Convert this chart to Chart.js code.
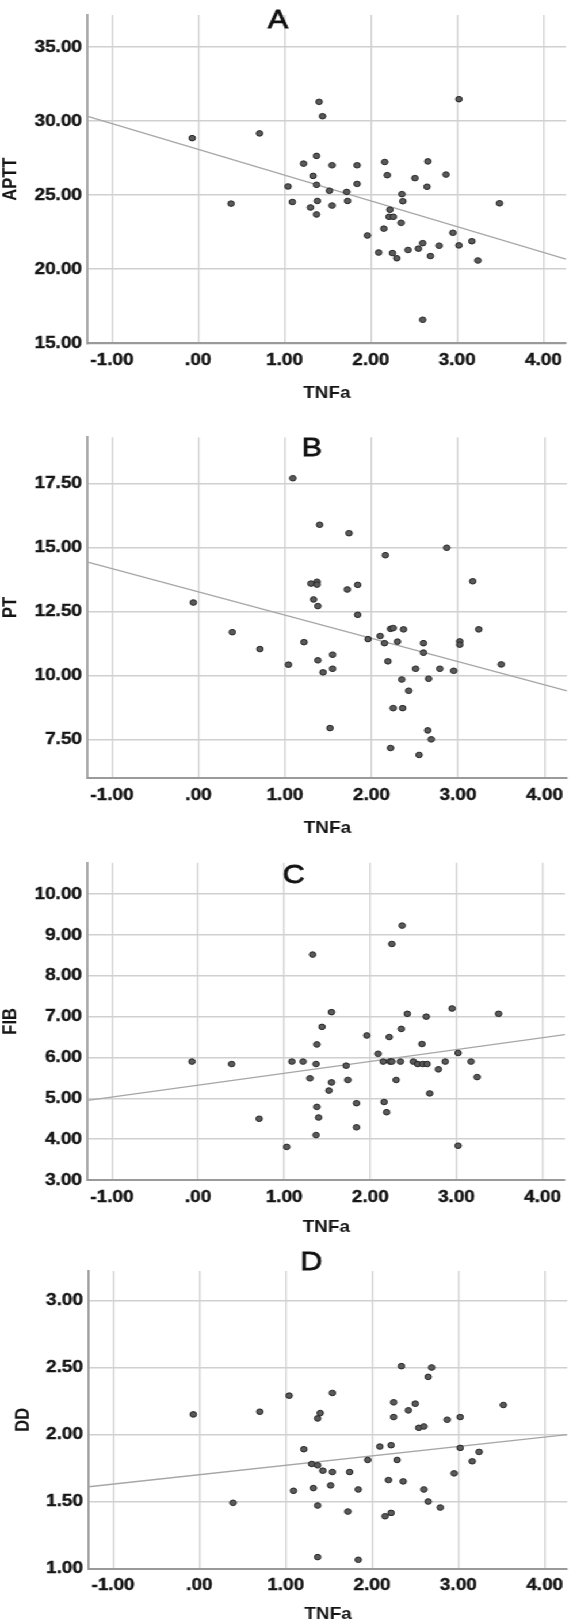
<!DOCTYPE html>
<html>
<head>
<meta charset="utf-8">
<title>TNFa scatter plots</title>
<script src="https://cdn.jsdelivr.net/npm/chart.js@4.4.1/dist/chart.umd.min.js"></script>
<style>
    html, body { margin: 0; padding: 0; background: #fff; }
    body { width: 573px; height: 1624px; overflow: hidden; }
    /* the source figure is stretched sideways, so draw narrow and widen */
    #stretch { position: relative; width: 498px; height: 1624px; transform: scaleX(1.1506); transform-origin: 0 0; }
    .panel { position: absolute; left: 0; width: 498px; }
</style>
</head>
<body>
<div id="stretch">
    <div class="panel" style="top:0;height:405px"><canvas id="chartA"></canvas></div>
    <div class="panel" style="top:405px;height:435px"><canvas id="chartB"></canvas></div>
    <div class="panel" style="top:840px;height:397px"><canvas id="chartC"></canvas></div>
    <div class="panel" style="top:1237px;height:387px"><canvas id="chartD"></canvas></div>
</div>
<script>
// x ticks shared by all panels
var xTicks = [-1, 0, 1, 2, 3, 4];
var xRange = [-1.28, 4.26];

// A: APTT vs TNFa
var tnfA = [1.40, 1.44, 3.02, -0.07, 0.71, 1.37, 1.22, 1.55, 1.84, 2.16,
            2.66, 1.33, 2.19, 2.51, 2.87, 1.04, 1.37, 1.52, 1.72, 1.84,
            2.65, 2.36, 2.37, 0.38, 1.09, 1.38, 1.73, 1.55, 1.30, 1.37,
            2.22, 2.21, 2.26, 2.35, 2.15, 1.96, 2.95, 2.60, 2.55, 2.43,
            2.79, 3.02, 3.17, 2.09, 2.25, 2.30, 2.69, 3.24, 2.60, 3.49];
var aptt = [31.30, 30.33, 31.48, 28.85, 29.17, 27.65, 27.13, 27.02, 27.02, 27.24,
            27.28, 26.30, 26.35, 26.15, 26.39, 25.59, 25.70, 25.30, 25.22, 25.76,
            25.57, 25.07, 24.59, 24.43, 24.54, 24.61, 24.61, 24.30, 24.17, 23.70,
            24.02, 23.54, 23.54, 23.13, 22.74, 22.28, 22.46, 21.76, 21.39, 21.30,
            21.59, 21.61, 21.89, 21.13, 21.09, 20.74, 20.89, 20.59, 16.59, 24.45];
var yTicksA = [15, 20, 25, 30, 35];
var fitA = [28.1, -1.74]; // intercept, slope

// B: PT vs TNFa
var tnfB = [1.09, 1.40, 1.74, 2.87, 2.16, 3.17, 1.30, 1.37, 1.37, 1.72,
            1.84, 1.33, 1.38, -0.06, 1.84, 2.22, 2.25, 2.37, 3.24, 0.39,
            1.96, 2.10, 2.15, 2.30, 2.60, 3.02, 3.02, 1.22, 0.71, 2.60,
            1.55, 1.04, 1.38, 1.55, 1.44, 2.19, 2.51, 2.79, 2.95, 3.50,
            2.35, 2.66, 2.43, 2.25, 2.36, 1.52, 2.65, 2.69, 2.22, 2.55];
var pt = [17.71, 15.89, 15.56, 14.99, 14.70, 13.68, 13.59, 13.66, 13.55, 13.36,
          13.54, 12.97, 12.71, 12.85, 12.37, 11.82, 11.85, 11.80, 11.80, 11.69,
          11.42, 11.54, 11.26, 11.32, 11.26, 11.33, 11.20, 11.30, 11.03, 10.89,
          10.81, 10.42, 10.59, 10.26, 10.12, 10.55, 10.26, 10.26, 10.18, 10.43,
          9.84, 9.87, 9.40, 8.72, 8.72, 7.94, 7.85, 7.50, 7.16, 6.89];
var yTicksB = [7.5, 10, 12.5, 15, 17.5];
var fitB = [13.27, -0.909];

// C: FIB vs TNFa
var tnfC = [2.37, 2.25, 1.33, 1.55, 2.95, 2.43, 2.65, 3.49, 1.44, 2.36,
            1.96, 2.22, 1.38, 2.60, 2.09, 3.02, -0.07, 0.39, 1.09, 1.22,
            1.37, 1.72, 2.15, 2.23, 2.25, 2.35, 2.50, 2.55, 2.61, 2.66,
            2.87, 3.17, 2.79, 3.24, 1.30, 1.74, 2.30, 1.55, 1.52, 2.69,
            1.84, 2.16, 1.38, 2.19, 1.40, 0.71, 1.84, 1.37, 1.03, 3.02];
var fib = [9.23, 8.78, 8.52, 7.11, 7.20, 7.07, 7.00, 7.07, 6.75, 6.70,
           6.54, 6.50, 6.32, 6.33, 6.09, 6.11, 5.90, 5.84, 5.90, 5.90,
           5.84, 5.80, 5.90, 5.90, 5.90, 5.90, 5.90, 5.84, 5.84, 5.84,
           5.90, 5.90, 5.71, 5.52, 5.49, 5.45, 5.45, 5.39, 5.19, 5.12,
           4.88, 4.91, 4.79, 4.66, 4.53, 4.50, 4.29, 4.10, 3.81, 3.84];
var yTicksC = [3, 4, 5, 6, 7, 8, 9, 10];
var fitC = [5.32, 0.291];

// D: DD vs TNFa
var tnfD = [2.34, 2.69, 2.65, 1.54, 1.04, 2.25, 2.50, 2.42, 1.40, 1.37,
            -0.07, 0.70, 2.25, 2.87, 3.02, 2.54, 2.60, 3.52, 2.09, 2.22,
            3.02, 3.24, 1.21, 1.95, 2.29, 3.16, 1.30, 1.37, 1.43, 1.54,
            1.74, 2.95, 2.19, 2.36, 1.09, 1.32, 1.52, 1.84, 2.60, 2.65,
            0.39, 1.37, 2.79, 1.72, 2.15, 2.22, 1.37, 1.84];
var dd = [2.51, 2.50, 2.43, 2.31, 2.29, 2.24, 2.23, 2.18, 2.16, 2.12,
          2.15, 2.17, 2.13, 2.11, 2.13, 2.05, 2.06, 2.22, 1.91, 1.92,
          1.90, 1.87, 1.89, 1.81, 1.81, 1.80, 1.78, 1.77, 1.73, 1.72,
          1.72, 1.71, 1.66, 1.65, 1.58, 1.60, 1.62, 1.59, 1.59, 1.50,
          1.49, 1.47, 1.455, 1.425, 1.39, 1.415, 1.085, 1.065];
var yTicksD = [1, 1.5, 2, 2.5, 3];
var fitD = [1.70, 0.0702];

Chart.defaults.font.family = '"Liberation Sans", Arial, Helvetica, sans-serif';
Chart.defaults.color = '#151515';

var letterPlugin = {
    id: 'panelLetter',
    afterDraw: function(chart, args, opts) {
        var ctx = chart.ctx;
        ctx.save();
        ctx.font = '26.5px "Liberation Sans", Arial, sans-serif';
        ctx.fillStyle = '#111';
        ctx.strokeStyle = '#111';
        ctx.lineWidth = 0.8;
        ctx.textAlign = 'center';
        ctx.textBaseline = 'alphabetic';
        ctx.fillText(opts.text, opts.x, opts.y);
        ctx.strokeText(opts.text, opts.x, opts.y);
        ctx.restore();
    }
};

function fmt(v) {
    return Number(v).toFixed(2).replace(/^(-?)0\./, '$1.');
}

function toPoints(xs, ys) {
    var pts = [];
    for (var i = 0; i < xs.length; i++) {
        pts.push({x: xs[i], y: ys[i]});
    }
    return pts;
}

function makePanel(id, p) {
    var ctx = document.getElementById(id);
    var line = [
        {x: xRange[0], y: p.fit[0] + p.fit[1] * xRange[0]},
        {x: xRange[1], y: p.fit[0] + p.fit[1] * xRange[1]}
    ];
    return new Chart(ctx, {
        type: 'scatter',
        data: {
            datasets: [
                {
                    data: toPoints(p.xs, p.ys),
                    backgroundColor: '#5a5a5a',
                    borderColor: '#262626',
                    borderWidth: 1,
                    pointRadius: 2.8
                },
                {
                    type: 'line',
                    data: line,
                    borderColor: '#a6a6a6',
                    borderWidth: 1.3,
                    pointRadius: 0,
                    fill: false
                }
            ]
        },
        options: {
            responsive: true,
            maintainAspectRatio: false,
            animation: false,
            events: [],
            layout: {padding: {top: p.padTop, right: p.padRight, left: 0, bottom: 0}},
            plugins: {
                legend: {display: false},
                tooltip: {enabled: false},
                panelLetter: {text: p.letter, x: p.letterX, y: p.letterY}
            },
            scales: {
                x: {
                    type: 'linear',
                    min: xRange[0],
                    max: xRange[1],
                    afterBuildTicks: function(axis) {
                        axis.ticks = xTicks.map(function(v) { return {value: v}; });
                    },
                    afterFit: function(scale) { scale.height = p.xAxisH; },
                    ticks: {
                        callback: fmt,
                        autoSkip: false,
                        maxRotation: 0,
                        padding: 7.5,
                        textStrokeColor: '#151515',
                        textStrokeWidth: 0.4,
                        font: {size: 16.5, weight: 'bold'}
                    },
                    grid: {color: '#d0d0d0', lineWidth: 1.3, drawTicks: false},
                    border: {color: '#9a9a9a', width: 2},
                    title: {
                        display: true,
                        text: 'TNFa',
                        padding: {top: 0, bottom: p.xTitlePad},
                        font: {size: 16.5, weight: 'bold'}
                    }
                },
                y: {
                    type: 'linear',
                    min: p.yMin,
                    max: p.yMax,
                    afterBuildTicks: function(axis) {
                        axis.ticks = p.yTicks.map(function(v) { return {value: v}; });
                    },
                    afterFit: function(scale) { scale.width = p.axisW; },
                    ticks: {
                        callback: fmt,
                        autoSkip: false,
                        padding: 5,
                        textStrokeColor: '#151515',
                        textStrokeWidth: 0.4,
                        font: {size: 16.5, weight: 'bold'}
                    },
                    grid: {color: '#d0d0d0', lineWidth: 1.5, drawTicks: false},
                    border: {color: '#9a9a9a', width: 1.8},
                    title: {
                        display: true,
                        text: p.yTitle,
                        padding: {top: p.yTitlePad, bottom: 0},
                        font: {size: 16.5, weight: 'bold'}
                    }
                }
            }
        },
        plugins: [letterPlugin]
    });
}

makePanel('chartA', {
    xs: tnfA, ys: aptt, fit: fitA, yTicks: yTicksA, yMin: 15, yMax: 37.17,
    yTitle: 'APTT', letter: 'A', letterX: 241.6, letterY: 28.3,
    padTop: 2.7, padRight: 6.1, xAxisH: 61.7, xTitlePad: 1.8, axisW: 76.3, yTitlePad: 0
});
makePanel('chartB', {
    xs: tnfB, ys: pt, fit: fitB, yTicks: yTicksB, yMin: 6.0, yMax: 19.31,
    yTitle: 'PT', letter: 'B', letterX: 271.2, letterY: 51.2,
    padTop: 32.3, padRight: 5.2, xAxisH: 62.3, xTitlePad: 1.8, axisW: 76.3, yTitlePad: 0
});
makePanel('chartC', {
    xs: tnfC, ys: fib, fit: fitC, yTicks: yTicksC, yMin: 3, yMax: 10.77,
    yTitle: 'FIB', letter: 'C', letterX: 255.3, letterY: 42.8,
    padTop: 22.7, padRight: 7.0, xAxisH: 57, xTitlePad: 0, axisW: 76.3, yTitlePad: 0
});
makePanel('chartD', {
    xs: tnfD, ys: dd, fit: fitD, yTicks: yTicksD, yMin: 1, yMax: 3.22,
    yTitle: 'DD', letter: 'D', letterX: 270.5, letterY: 32.5,
    padTop: 34, padRight: 4.3, xAxisH: 55.5, xTitlePad: 0, axisW: 77.2, yTitlePad: 11
});
</script>
</body>
</html>
